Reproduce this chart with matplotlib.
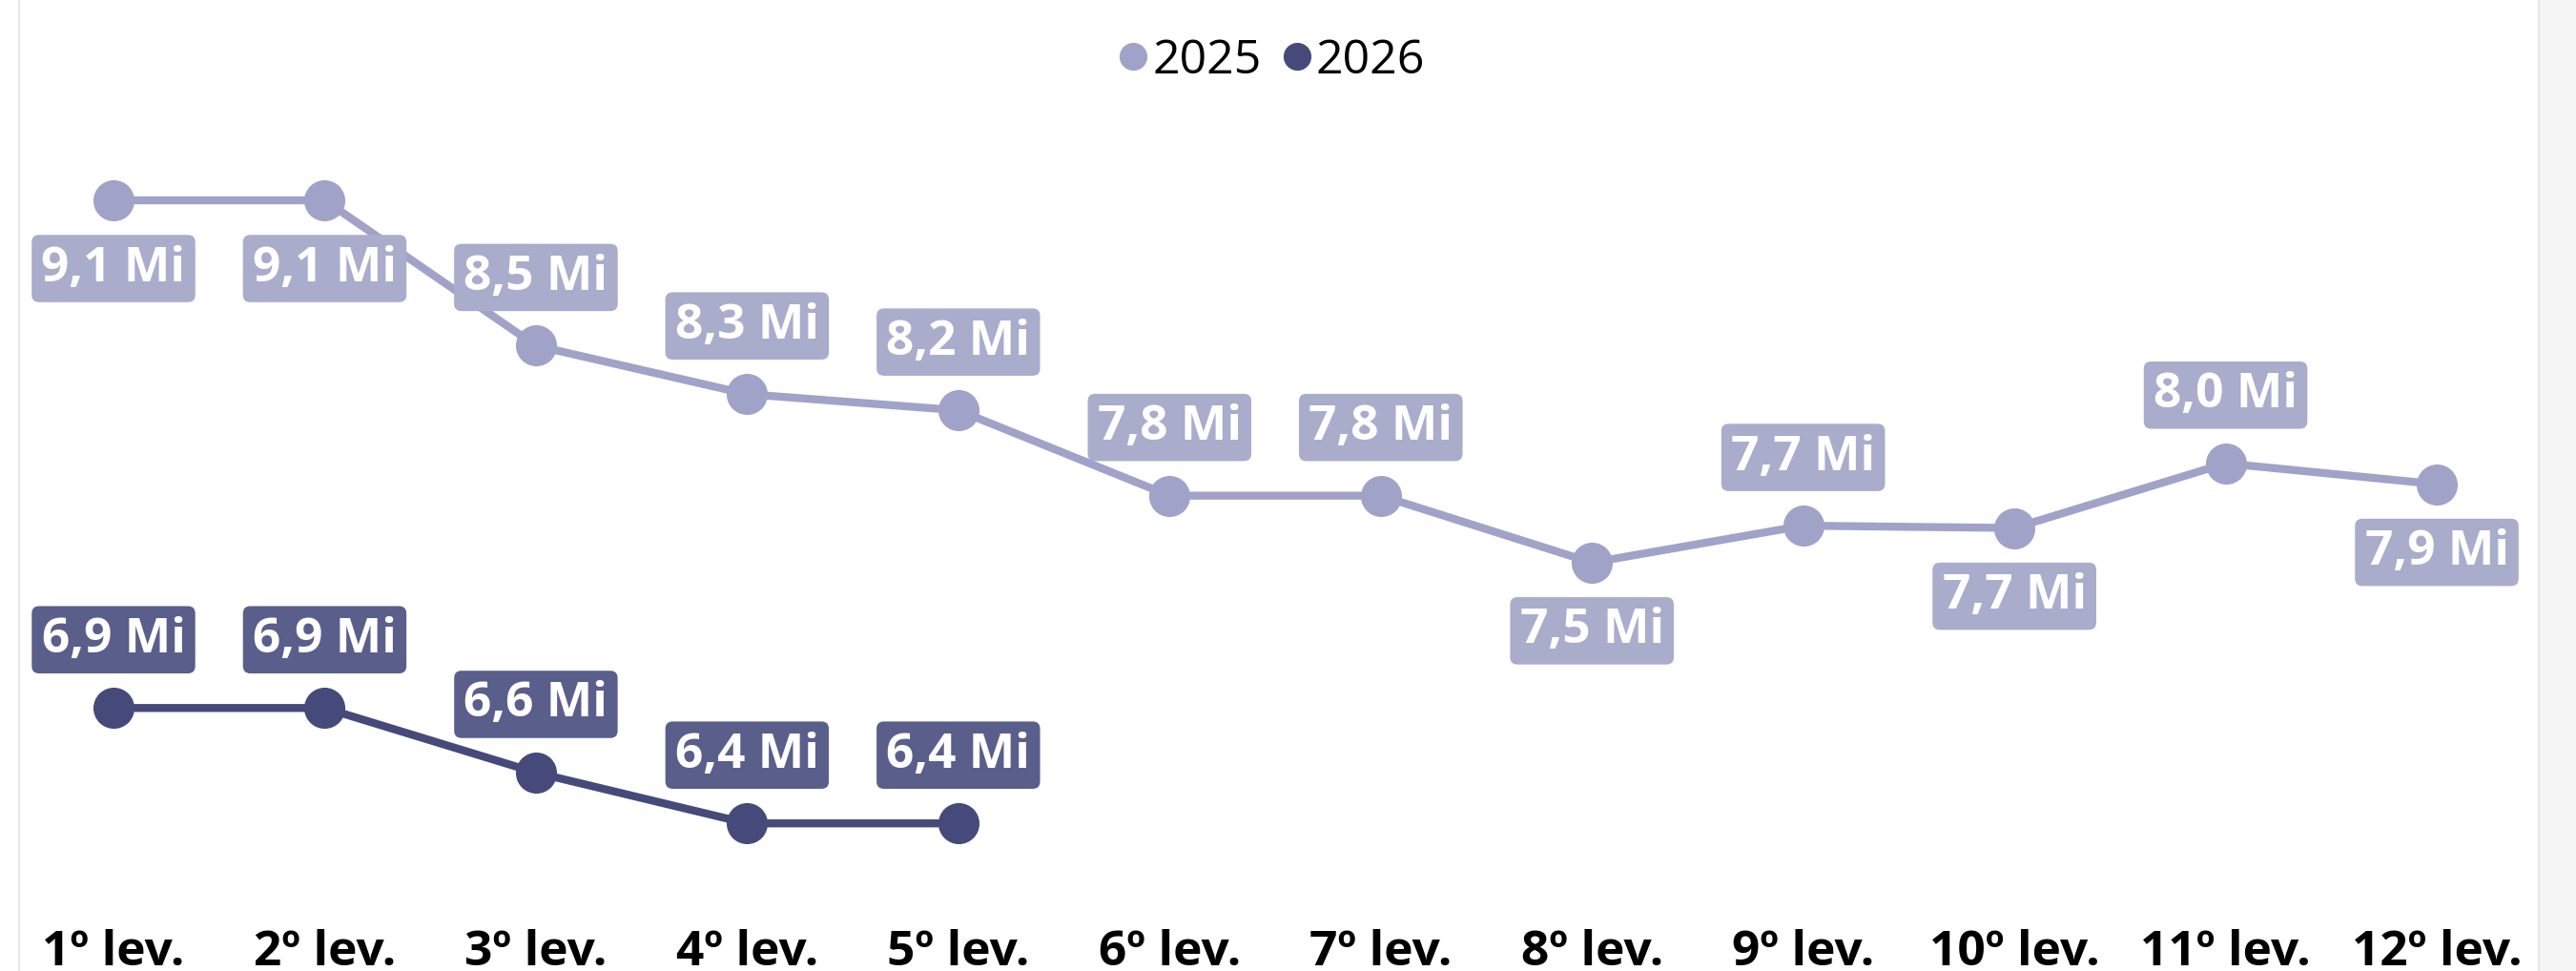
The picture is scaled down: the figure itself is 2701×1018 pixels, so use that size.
import matplotlib.pyplot as plt
from matplotlib.lines import Line2D
from matplotlib.patches import Rectangle

plt.rcParams['font.family'] = ['Open Sans', 'DejaVu Sans']

# Data (millions)
levels = ['1º lev.', '2º lev.', '3º lev.', '4º lev.', '5º lev.', '6º lev.',
          '7º lev.', '8º lev.', '9º lev.', '10º lev.', '11º lev.', '12º lev.']
vals_2025 = [9.10, 9.10, 8.47, 8.26, 8.19, 7.82, 7.82, 7.53, 7.69, 7.68, 7.96, 7.87]
vals_2026 = [6.90, 6.90, 6.62, 6.40, 6.40]

# label side per point: +1 above, -1 below
side_2025 = [-1, -1, 1, 1, 1, 1, 1, -1, 1, -1, 1, -1]
side_2026 = [1, 1, 1, 1, 1]

c25_line = '#A0A2C8'
c25_box = '#AAACCC'
c26_line = '#454A7A'
c26_box = '#5A5E8B'

W, H = 2701, 1018
fig = plt.figure(figsize=(W / 100, H / 100), dpi=100)
ax = fig.add_axes([20 / W, 58 / H, 2642 / W, 960 / H])
ax.set_xlim(-0.447, 11.483)
ax.set_ylim(6.0, 9.968)


def fmt(v):
    return f'{v:.1f}'.replace('.', ',') + ' Mi'


def draw(vals, sides, line_c, box_c, label):
    x = list(range(len(vals)))
    ax.plot(x, vals, color=line_c, lw=6, marker='o', ms=30,
            solid_capstyle='round', label=label, zorder=2)
    for xi, v, s in zip(x, vals, sides):
        ax.annotate(fmt(v), (xi, v), xytext=(0, 51.5 * s),
                    textcoords='offset points', ha='center', va='center',
                    fontsize=37, fontweight='bold', color='white', zorder=3,
                    bbox=dict(boxstyle='round,pad=0.2,rounding_size=0.15',
                              fc=box_c, ec='none'))


draw(vals_2025, side_2025, c25_line, c25_box, '2025')
draw(vals_2026, side_2026, c26_line, c26_box, '2026')

ax.set_xticks(range(len(levels)))
ax.set_xticklabels(levels, fontsize=37, fontweight='bold', color='black')
ax.tick_params(axis='x', length=0, pad=10)
ax.set_yticks([])
for sp in ax.spines.values():
    sp.set_visible(False)

handles = [Line2D([], [], ls='none', marker='o', ms=20, color=c25_line),
           Line2D([], [], ls='none', marker='o', ms=20, color=c26_line)]
fig.legend(handles, ['2025', '2026'], loc='center',
           bbox_to_anchor=(1335 / W, 1 - 64 / H), ncol=2, frameon=False,
           fontsize=36, handlelength=0.5, handletextpad=0.15,
           columnspacing=0.5)

# panel borders
fig.add_artist(Line2D([20 / W, 20 / W], [0, 1], color='#E6E6E6', lw=1.5))
fig.add_artist(Line2D([2662 / W, 2662 / W], [0, 1], color='#E6E6E6', lw=1.5))
fig.add_artist(Rectangle((2663 / W, 0), 1, 1, color='#F5F5F5', lw=0))

fig.savefig('out.png', dpi=100)
